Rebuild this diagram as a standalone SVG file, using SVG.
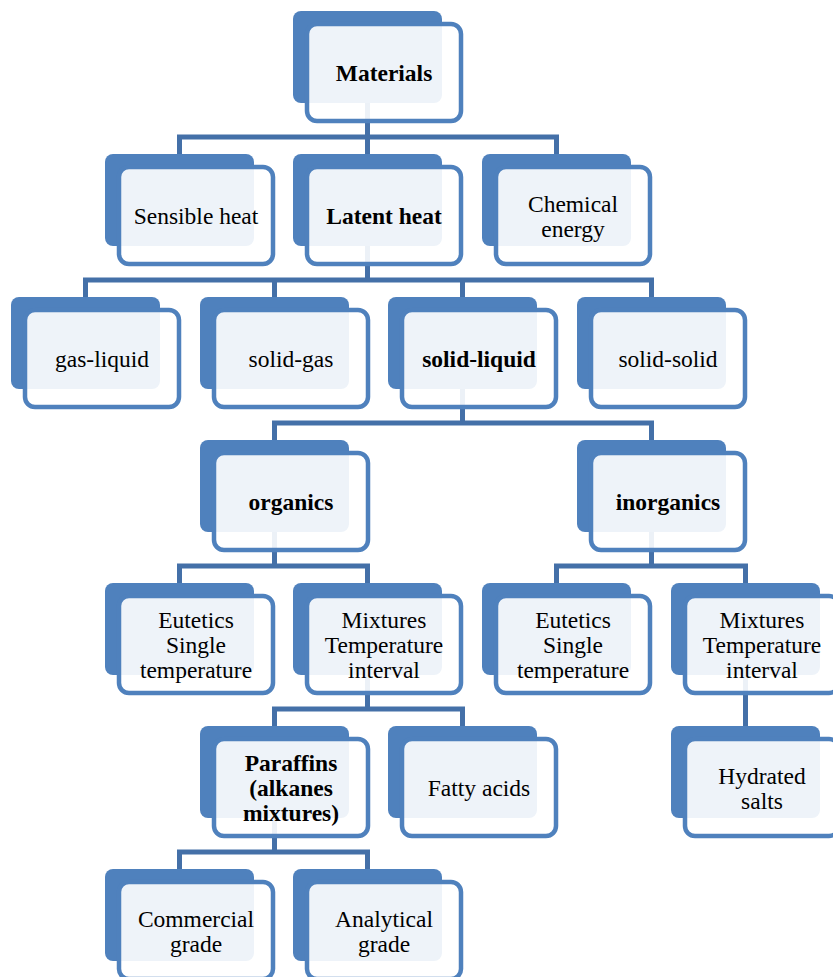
<svg xmlns="http://www.w3.org/2000/svg" width="833" height="977" viewBox="0 0 833 977">
  <style>
    .back { fill: #4f81bd; }
    .front { fill: #ffffff; fill-opacity: 0.9; stroke: #4f81bd; stroke-width: 4.5; }
    .lbl { font-family: "Liberation Serif", "Times New Roman", serif; font-size: 23.5px; fill: #000; text-anchor: middle; }
    .b { font-weight: bold; }
    .conn { fill: none; stroke: #4470a8; stroke-width: 5; stroke-linejoin: miter; }
  </style>
  <rect width="833" height="977" fill="#ffffff"/>

  <!-- hierarchy connectors -->
  <g id="connectors" class="conn">
    <path d="M367.5 100 V154 M179.5 154 V137 H556.5 V154"/>
    <path d="M367.5 243 V280 M85.5 297 V280 H651.5 V297 M274.5 280 V297 M462.5 280 V297"/>
    <path d="M462.5 386 V423 M274.5 440 V423 H651.5 V440"/>
    <path d="M274.5 529 V566 M179.5 583 V566 H367.5 V583"/>
    <path d="M651.5 529 V566 M556.5 583 V566 H745.5 V583"/>
    <path d="M367.5 672 V709 M274.5 726 V709 H462.5 V726"/>
    <path d="M745.5 672 V726"/>
    <path d="M274.5 815 V852 M179.5 869 V852 H367.5 V869"/>
  </g>

  <!-- nodes: back plate, translucent front card, label -->
  <g id="materials" transform="translate(293 11)">
    <rect class="back" width="149" height="92" rx="8"/>
    <rect class="front" x="14" y="13" width="154" height="97" rx="10"/>
    <text class="lbl b" x="91" y="70">Materials</text>
  </g>

  <g id="sensible-heat" transform="translate(105 154)">
    <rect class="back" width="149" height="92" rx="8"/>
    <rect class="front" x="14" y="13" width="154" height="97" rx="10"/>
    <text class="lbl" x="91" y="70">Sensible heat</text>
  </g>
  <g id="latent-heat" transform="translate(293 154)">
    <rect class="back" width="149" height="92" rx="8"/>
    <rect class="front" x="14" y="13" width="154" height="97" rx="10"/>
    <text class="lbl b" x="91" y="70">Latent heat</text>
  </g>
  <g id="chemical-energy" transform="translate(482 154)">
    <rect class="back" width="149" height="92" rx="8"/>
    <rect class="front" x="14" y="13" width="154" height="97" rx="10"/>
    <text class="lbl" x="91" y="57.5">Chemical</text>
    <text class="lbl" x="91" y="82.5">energy</text>
  </g>

  <g id="gas-liquid" transform="translate(11 297)">
    <rect class="back" width="149" height="92" rx="8"/>
    <rect class="front" x="14" y="13" width="154" height="97" rx="10"/>
    <text class="lbl" x="91" y="70">gas-liquid</text>
  </g>
  <g id="solid-gas" transform="translate(200 297)">
    <rect class="back" width="149" height="92" rx="8"/>
    <rect class="front" x="14" y="13" width="154" height="97" rx="10"/>
    <text class="lbl" x="91" y="70">solid-gas</text>
  </g>
  <g id="solid-liquid" transform="translate(388 297)">
    <rect class="back" width="149" height="92" rx="8"/>
    <rect class="front" x="14" y="13" width="154" height="97" rx="10"/>
    <text class="lbl b" x="91" y="70">solid-liquid</text>
  </g>
  <g id="solid-solid" transform="translate(577 297)">
    <rect class="back" width="149" height="92" rx="8"/>
    <rect class="front" x="14" y="13" width="154" height="97" rx="10"/>
    <text class="lbl" x="91" y="70">solid-solid</text>
  </g>

  <g id="organics" transform="translate(200 440)">
    <rect class="back" width="149" height="92" rx="8"/>
    <rect class="front" x="14" y="13" width="154" height="97" rx="10"/>
    <text class="lbl b" x="91" y="70">organics</text>
  </g>
  <g id="inorganics" transform="translate(577 440)">
    <rect class="back" width="149" height="92" rx="8"/>
    <rect class="front" x="14" y="13" width="154" height="97" rx="10"/>
    <text class="lbl b" x="91" y="70">inorganics</text>
  </g>

  <g id="organic-eutectics" transform="translate(105 583)">
    <rect class="back" width="149" height="92" rx="8"/>
    <rect class="front" x="14" y="13" width="154" height="97" rx="10"/>
    <text class="lbl" x="91" y="45">Eutetics</text>
    <text class="lbl" x="91" y="70">Single</text>
    <text class="lbl" x="91" y="95">temperature</text>
  </g>
  <g id="organic-mixtures" transform="translate(293 583)">
    <rect class="back" width="149" height="92" rx="8"/>
    <rect class="front" x="14" y="13" width="154" height="97" rx="10"/>
    <text class="lbl" x="91" y="45">Mixtures</text>
    <text class="lbl" x="91" y="70">Temperature</text>
    <text class="lbl" x="91" y="95">interval</text>
  </g>
  <g id="inorganic-eutectics" transform="translate(482 583)">
    <rect class="back" width="149" height="92" rx="8"/>
    <rect class="front" x="14" y="13" width="154" height="97" rx="10"/>
    <text class="lbl" x="91" y="45">Eutetics</text>
    <text class="lbl" x="91" y="70">Single</text>
    <text class="lbl" x="91" y="95">temperature</text>
  </g>
  <g id="inorganic-mixtures" transform="translate(671 583)">
    <rect class="back" width="149" height="92" rx="8"/>
    <rect class="front" x="14" y="13" width="154" height="97" rx="10"/>
    <text class="lbl" x="91" y="45">Mixtures</text>
    <text class="lbl" x="91" y="70">Temperature</text>
    <text class="lbl" x="91" y="95">interval</text>
  </g>

  <g id="paraffins" transform="translate(200 726)">
    <rect class="back" width="149" height="92" rx="8"/>
    <rect class="front" x="14" y="13" width="154" height="97" rx="10"/>
    <text class="lbl b" x="91" y="45">Paraffins</text>
    <text class="lbl b" x="91" y="70">(alkanes</text>
    <text class="lbl b" x="91" y="95">mixtures)</text>
  </g>
  <g id="fatty-acids" transform="translate(388 726)">
    <rect class="back" width="149" height="92" rx="8"/>
    <rect class="front" x="14" y="13" width="154" height="97" rx="10"/>
    <text class="lbl" x="91" y="70">Fatty acids</text>
  </g>
  <g id="hydrated-salts" transform="translate(671 726)">
    <rect class="back" width="149" height="92" rx="8"/>
    <rect class="front" x="14" y="13" width="154" height="97" rx="10"/>
    <text class="lbl" x="91" y="57.5">Hydrated</text>
    <text class="lbl" x="91" y="82.5">salts</text>
  </g>

  <g id="commercial-grade" transform="translate(105 869)">
    <rect class="back" width="149" height="92" rx="8"/>
    <rect class="front" x="14" y="13" width="154" height="97" rx="10"/>
    <text class="lbl" x="91" y="57.5">Commercial</text>
    <text class="lbl" x="91" y="82.5">grade</text>
  </g>
  <g id="analytical-grade" transform="translate(293 869)">
    <rect class="back" width="149" height="92" rx="8"/>
    <rect class="front" x="14" y="13" width="154" height="97" rx="10"/>
    <text class="lbl" x="91" y="57.5">Analytical</text>
    <text class="lbl" x="91" y="82.5">grade</text>
  </g>
</svg>
